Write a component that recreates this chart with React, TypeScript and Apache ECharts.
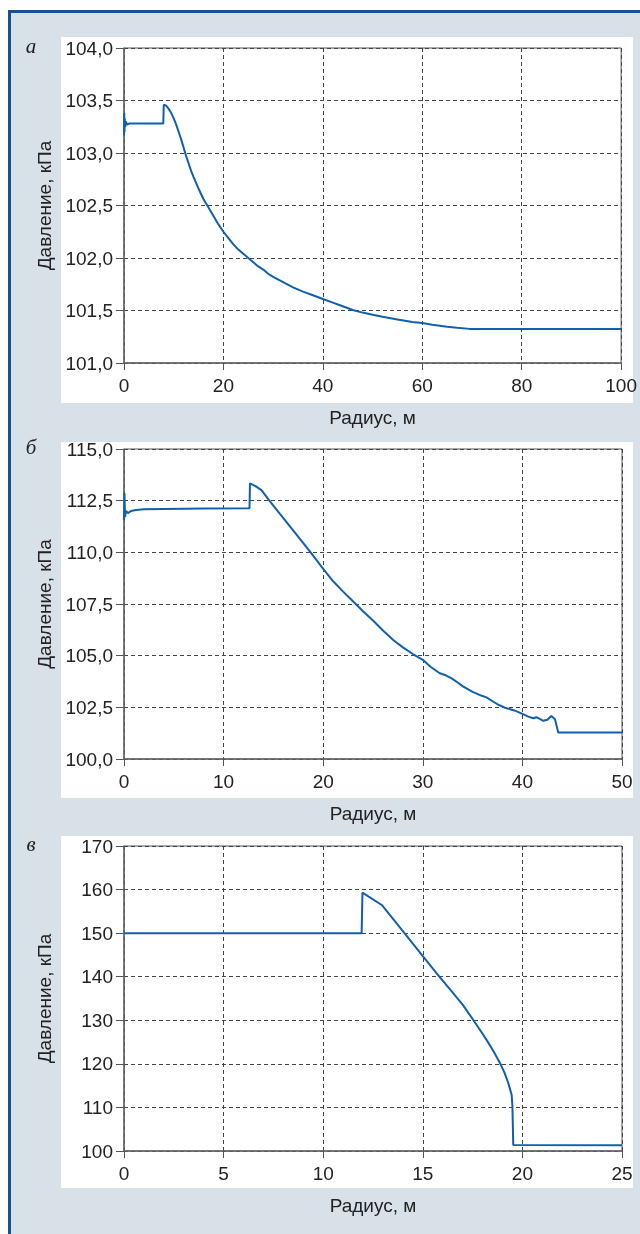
import React, { useEffect, useRef } from "react";
import * as echarts from "echarts";

// Panel a: pressure (kPa) vs radius (m)
const radiusA = [0, 0.05, 0.1, 0.15, 0.25, 0.4, 0.6, 1, 4, 7.9, 8.0, 8.5, 9, 9.5, 10, 10.5, 11, 11.5, 12, 12.5, 13, 13.5, 14, 15, 16, 17, 18, 19, 20, 21, 22, 23, 24, 25, 26, 27, 28, 29, 30, 32, 34, 36, 38, 40, 42, 44, 46, 48, 50, 52, 55, 58, 60, 62, 65, 67, 69.5, 80, 100];
const pressureA = [103.17, 103.38, 103.2, 103.33, 103.25, 103.3, 103.27, 103.28, 103.28, 103.28, 103.46, 103.45, 103.42, 103.38, 103.33, 103.27, 103.2, 103.13, 103.05, 102.97, 102.9, 102.83, 102.77, 102.66, 102.56, 102.48, 102.4, 102.32, 102.25, 102.19, 102.13, 102.08, 102.04, 102.0, 101.96, 101.92, 101.89, 101.85, 101.82, 101.77, 101.72, 101.68, 101.645, 101.61, 101.575, 101.54, 101.505, 101.48, 101.46, 101.44, 101.415, 101.39, 101.38, 101.365, 101.345, 101.335, 101.325, 101.325, 101.325];

// Panel b
const radiusB = [0, 0.05, 0.1, 0.2, 0.4, 0.7, 1.2, 2, 4, 8, 12.6, 12.65, 13.2, 13.8, 14.6, 16, 17, 18, 18.74, 20, 21, 22, 22.86, 24, 25, 26, 27.03, 28, 29, 30, 30.8, 31.7, 32.3, 32.9, 33.5, 34.07, 35, 35.7, 36.4, 37.08, 37.7, 38.25, 39.2, 40, 40.6, 41.1, 41.4, 41.7, 42.1, 42.5, 42.9, 43.27, 43.6, 44, 50];
const pressureB = [111.56, 112.87, 111.7, 112.0, 111.9, 112.0, 112.05, 112.08, 112.1, 112.12, 112.13, 113.34, 113.2, 113.01, 112.5, 111.65, 111.05, 110.45, 110.0, 109.2, 108.6, 108.1, 107.69, 107.15, 106.7, 106.22, 105.76, 105.4, 105.08, 104.8, 104.45, 104.15, 104.05, 103.9, 103.7, 103.5, 103.25, 103.1, 102.98, 102.77, 102.6, 102.48, 102.35, 102.18, 102.05, 101.97, 102.02, 101.95, 101.85, 101.9, 102.08, 101.92, 101.28, 101.28, 101.28];

// Panel c
const radiusC = [0, 11.93, 11.97, 12.94, 14.02, 15.02, 15.86, 16.4, 16.78, 17, 17.5, 18, 18.2, 18.55, 18.88, 19.1, 19.29, 19.46, 19.5, 19.54, 25];
const pressureC = [150, 150, 159.28, 156.46, 150.33, 144.6, 139.86, 136.9, 134.8, 133.6, 130.3, 126.9, 125.5, 122.9, 120.15, 118.0, 115.6, 112.9, 110.2, 101.4, 101.3];

const xTicksA = { min: 0, max: 100, interval: 20 };
const yTicksA = { min: 101, max: 104, interval: 0.5 };
const xTicksB = { min: 0, max: 50, interval: 10 };
const yTicksB = { min: 100, max: 115, interval: 2.5 };
const xTicksC = { min: 0, max: 25, interval: 5 };
const yTicksC = { min: 100, max: 170, interval: 10 };

const panelLetters = ["а", "б", "в"];
const xTitle = "Радиус, м";
const yTitle = "Давление, кПа";

const FONT = "'Liberation Sans', Arial, sans-serif";
const LINE = "#1160ae";

export default function App() {
  const ref = useRef<HTMLDivElement>(null);
  useEffect(() => {
    if (!ref.current) return;
    const chart = echarts.init(ref.current, null, { renderer: "svg" });
    const grids = [
      { left: 124, top: 48, width: 498, height: 315 },
      { left: 124, top: 449, width: 498, height: 310 },
      { left: 124, top: 846, width: 498, height: 305 },
    ];
    const xt = [xTicksA, xTicksB, xTicksC];
    const yt = [yTicksA, yTicksB, yTicksC];
    const fmt = [
      (v: number) => v.toFixed(1).replace(".", ","),
      (v: number) => v.toFixed(1).replace(".", ","),
      (v: number) => String(v),
    ];
    const data = [
      radiusA.map((r, i) => [r, pressureA[i]]),
      radiusB.map((r, i) => [r, pressureB[i]]),
      radiusC.map((r, i) => [r, pressureC[i]]),
    ];
    const panels = [
      { y: 37, h: 366 },
      { y: 442, h: 356 },
      { y: 836, h: 352 },
    ];
    const graphic: any[] = [
      { type: "rect", z: -20, shape: { x: 8, y: 10, width: 640, height: 1240 }, style: { fill: "#17508c" } },
      { type: "rect", z: -19, shape: { x: 11, y: 13, width: 640, height: 1240 }, style: { fill: "#d8e0e8" } },
    ];
    panels.forEach((p, i) => {
      graphic.push({ type: "rect", z: -18, shape: { x: 61, y: p.y, width: 572, height: p.h }, style: { fill: "#ffffff" } });
      graphic.push({
        type: "text",
        z: 10,
        x: 31,
        y: grids[i].top - 2,
        style: { text: panelLetters[i], font: "italic 21px 'Liberation Serif', serif", fill: "#222", align: "center", verticalAlign: "middle" },
      });
    });
    const option: any = {
      animation: false,
      graphic,
      grid: grids.map((g) => ({ ...g, show: true, borderColor: "#555", borderWidth: 1, backgroundColor: "transparent" })),
      xAxis: grids.map((g, i) => ({
        type: "value",
        gridIndex: i,
        min: xt[i].min,
        max: xt[i].max,
        interval: xt[i].interval,
        name: xTitle,
        nameLocation: "middle",
        nameGap: 45,
        nameTextStyle: { fontFamily: FONT, fontSize: 19, color: "#222" },
        axisLine: { show: true, lineStyle: { color: "#666", width: 1.5 } },
        axisTick: { show: true, inside: false, length: 7, lineStyle: { color: "#555" } },
        axisLabel: { margin: 13, fontFamily: FONT, fontSize: 19, color: "#222" },
        splitLine: { show: true, lineStyle: { color: "#444", type: [4, 3], width: 1 } },
      })),
      yAxis: grids.map((g, i) => ({
        type: "value",
        gridIndex: i,
        min: yt[i].min,
        max: yt[i].max,
        interval: yt[i].interval,
        name: yTitle,
        nameLocation: "middle",
        nameGap: 70,
        nameTextStyle: { fontFamily: FONT, fontSize: 19, color: "#222" },
        axisLine: { show: true, lineStyle: { color: "#666", width: 1.5 } },
        axisTick: { show: true, inside: false, length: 8, lineStyle: { color: "#555" } },
        axisLabel: { margin: 11, fontFamily: FONT, fontSize: 19, color: "#222", formatter: fmt[i] },
        splitLine: { show: true, lineStyle: { color: "#444", type: [4, 3], width: 1 } },
      })),
      series: data.map((d, i) => ({
        type: "line",
        xAxisIndex: i,
        yAxisIndex: i,
        data: d,
        showSymbol: false,
        symbol: "none",
        smooth: false,
        lineStyle: { color: LINE, width: 2 },
      })),
    };
    chart.setOption(option);
    return () => chart.dispose();
  }, []);
  return <div ref={ref} style={{ position: "fixed", left: 0, top: 0, width: 640, height: 1234 }} />;
}
